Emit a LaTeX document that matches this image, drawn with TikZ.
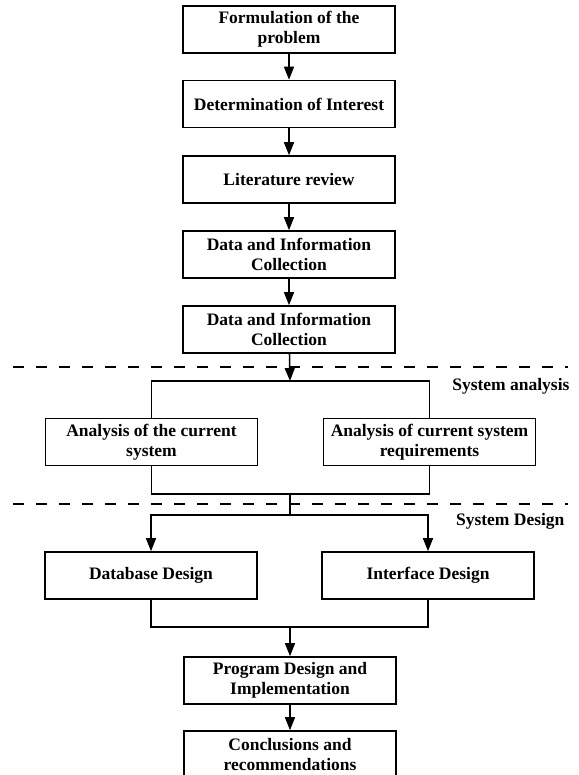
\documentclass[tikz,border=0pt]{standalone}
\usepackage{fontspec}
\setmainfont{Liberation Serif}
\usetikzlibrary{arrows.meta}
\begin{document}
\begin{tikzpicture}[x=1pt,y=-1pt,
	box/.style={draw,line width=1.6pt,minimum width=212pt,minimum height=47pt,inner sep=2pt,align=center,font=\bfseries\fontsize{17.5}{20}\selectfont},
	flow/.style={line width=1.5pt,-{Triangle[length=13pt,width=10pt]}},
	link/.style={line width=1.5pt},
	stage/.style={line width=1.5pt,dash pattern=on 11pt off 12pt},
	tag/.style={anchor=base east,font=\bfseries\fontsize{17.5}{20}\selectfont}]
				\useasboundingbox (0,0) rectangle (578,775);
				\node[box](formul) at (289,29.5){Formulation of the\\problem};
				\node[box](interest) at (289,104){Determination of Interest};
				\node[box](review) at (289,179.5){Literature review};
				\node[box](collect1) at (289,254.5){Data and Information\\Collection};
				\node[box](collect2) at (289,329.5){Data and Information\\Collection};
				\node[box](current) at (151.5,442){Analysis of the current\\system};
				\node[box](require) at (429.5,442){Analysis of current system\\requirements};
				\node[box](database) at (151,575.5){Database Design};
				\node[box](interface) at (428,575.5){Interface Design};
				\node[box](program) at (290,680.5){Program Design and\\Implementation};
				\node[box](conclude) at (290,754.5){Conclusions and\\recommendations};
				\node[tag](analysis) at (573,390){System analysis};
				\node[tag](design) at (568,525){System Design};
				\coordinate(d1a) at (13,367);
				\coordinate(d1b) at (568,367);
				\coordinate(d2a) at (13,504);
				\coordinate(d2b) at (568,504);
				\coordinate(split) at (290,381);
				\coordinate(merge) at (290,494);
				\coordinate(fork) at (290,515);
				\coordinate(join) at (290,627);
				\draw[stage](d1a) to (d1b);
				\draw[stage](d2a) to (d2b);
				\draw[flow](formul) to (interest);
				\draw[flow](interest) to (review);
				\draw[flow](review) to (collect1);
				\draw[flow](collect1) to (collect2);
				\draw[flow](collect2) to (split);
				\draw[link](current.north) to (current.north |- split) to (require.north |- split) to (require.north);
				\draw[link](current.south) to (current.south |- merge) to (require.south |- merge) to (require.south);
				\draw[link](merge) to (fork);
				\draw[flow](fork) -| (database.north);
				\draw[flow](fork) -| (interface.north);
				\draw[link](database.south) to (database.south |- join) to (interface.south |- join) to (interface.south);
				\draw[flow](join) to (program);
				\draw[flow](program) to (conclude);
			\end{tikzpicture}
\end{document}
